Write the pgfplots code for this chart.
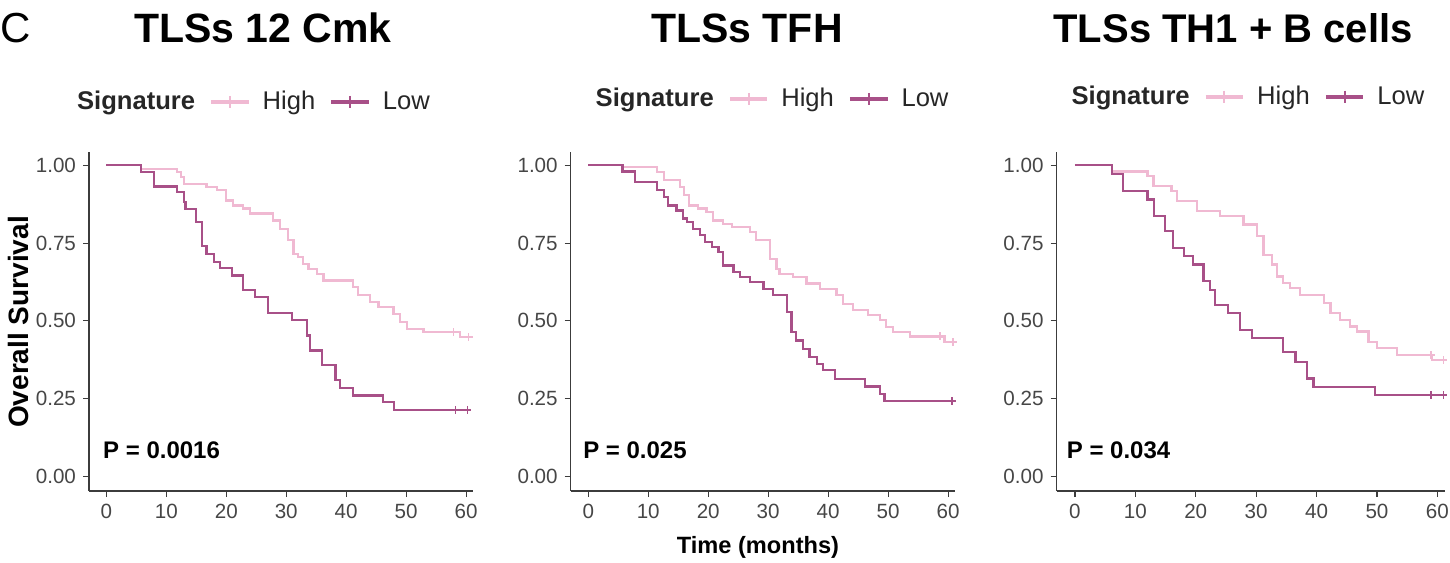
\documentclass[border=0pt]{standalone}
\usepackage{fontspec}
\setmainfont{Liberation Sans}
\usepackage{pgfplots}
\pgfplotsset{compat=1.18}
\definecolor{hicol}{RGB}{240,185,210}
\definecolor{locol}{RGB}{168,80,136}
\definecolor{axgray}{RGB}{60,60,60}
\definecolor{tickgray}{RGB}{70,70,70}
\pgfplotsset{kmstyle/.style={
  scale only axis, width=192pt, height=169.5pt, anchor=south west,
  xmin=-2.9, xmax=61.15, ymin=-0.047, ymax=1.043,
  axis x line*=bottom, axis y line*=left,
  axis line style={draw=axgray, line width=0.7pt, -},
  xtick={0,10,20,30,40,50,60}, xticklabels={0,10,20,30,40,50,60},
  ytick={0,0.25,0.5,0.75,1}, yticklabels={0.00,0.25,0.50,0.75,1.00},
  tick align=outside, major tick length=3pt,
  tick style={draw=axgray, line width=0.6pt},
  tick label style={font=\fontsize{10.3}{12}\selectfont, text=tickgray},
  clip=false,
  legend style={draw=none, fill=none, legend columns=-1, anchor=center,
    font=\fontsize{12.8}{15}\selectfont, text=black!85,
    /tikz/every odd column/.append style={column sep=4pt},
    /tikz/every even column/.append style={column sep=5pt}},
  legend image code/.code={\draw[mark repeat=2, mark phase=2, #1] plot coordinates {(0cm,0cm) (0.33cm,0cm) (0.66cm,0cm)};},
},
hicurve/.style={const plot, color=hicol, line width=1.1pt, forget plot},
locurve/.style={const plot, color=locol, line width=1.1pt, forget plot},
hicens/.style={only marks, mark=+, color=hicol, mark size=2pt, mark options={line width=0.8pt}, forget plot},
locens/.style={only marks, mark=+, color=locol, mark size=2pt, mark options={line width=0.8pt}, forget plot}}
\newcommand{\kmlegend}{%
  \addlegendimage{empty legend}\addlegendentry{\textbf{Signature}\hspace{3pt}}
  \addlegendimage{hicol, line width=2pt, mark=+, mark size=3pt, mark options={line width=1pt}}\addlegendentry{High}
  \addlegendimage{locol, line width=2pt, mark=+, mark size=3pt, mark options={line width=1pt}}\addlegendentry{Low}}
\begin{document}
\begin{tikzpicture}
\useasboundingbox (0,0) rectangle (725pt,281pt);
% Panel 1
\begin{axis}[kmstyle, at={(44.5pt,35.5pt)}, legend style={at={(0.418,1.148)}}]
\addplot[hicurve] coordinates {(0,1)(5.8,0.989)(11.8,0.979)(12.5,0.962)(12.9,0.941)(16.7,0.930)(18.4,0.920)(20.0,0.887)(21.1,0.871)(22.8,0.861)(23.9,0.845)(27.8,0.823)(28.9,0.796)(30.3,0.759)(31.2,0.716)(32.0,0.705)(32.8,0.684)(33.7,0.668)(35.1,0.652)(36.2,0.630)(41.2,0.609)(42.0,0.582)(44.0,0.561)(45.4,0.545)(47.9,0.523)(49.0,0.496)(50.1,0.475)(52.9,0.464)(59.0,0.448)(60.4,0.448)};
\addplot[hicens] coordinates {(57.9,0.464)(60.4,0.448)};
\addplot[locurve] coordinates {(0,1)(5.8,0.979)(8.0,0.932)(11.8,0.914)(12.9,0.882)(13.2,0.860)(15.0,0.818)(16.0,0.740)(16.7,0.716)(17.9,0.689)(18.9,0.670)(20.9,0.646)(22.8,0.598)(24.8,0.577)(27.0,0.525)(30.9,0.502)(33.4,0.453)(33.9,0.405)(35.9,0.357)(38.2,0.309)(39.0,0.285)(41.2,0.260)(46.1,0.239)(48.0,0.214)(60.2,0.214)};
\addplot[locens] coordinates {(58.2,0.214)(60.2,0.214)};
\kmlegend
\node[anchor=west, inner sep=0, font=\fontsize{12}{14}\selectfont\bfseries] at (axis cs:-0.6,0.084) {P = 0.0016};
\end{axis}
% Panel 2
\begin{axis}[kmstyle, at={(285.35pt,35.5pt)}, xmin=-2.93, xmax=61.1, legend style={at={(0.514,1.157)}}]
\addplot[hicurve] coordinates {(0,1)(5.7,0.995)(11.5,0.979)(12.6,0.952)(15.3,0.930)(15.9,0.904)(16.8,0.871)(18.3,0.861)(19.7,0.850)(20.8,0.823)(22.4,0.812)(23.9,0.802)(26.9,0.786)(27.9,0.759)(30.3,0.700)(31.4,0.668)(31.9,0.652)(34.2,0.641)(36.4,0.620)(38.6,0.603)(41.4,0.582)(42.5,0.555)(44.2,0.534)(46.7,0.518)(48.6,0.502)(49.7,0.480)(50.8,0.464)(53.6,0.450)(59.4,0.432)(60.8,0.432)};
\addplot[hicens] coordinates {(58.6,0.450)(60.8,0.432)};
\addplot[locurve] coordinates {(0,1)(5.7,0.98)(7.8,0.946)(11.5,0.920)(12.6,0.898)(13.3,0.871)(14.7,0.855)(15.8,0.829)(16.4,0.818)(17.5,0.796)(18.6,0.775)(19.4,0.753)(20.6,0.737)(21.7,0.721)(22.5,0.678)(24.2,0.657)(25.3,0.641)(26.9,0.625)(29.2,0.603)(30.8,0.582)(33.1,0.528)(33.9,0.464)(34.7,0.437)(35.8,0.410)(36.9,0.384)(38.1,0.362)(39.2,0.341)(41.1,0.314)(46.1,0.289)(48.6,0.266)(49.4,0.242)(60.6,0.242)};
\addplot[locens] coordinates {(60.6,0.242)};
\kmlegend
\node[anchor=west, inner sep=0, font=\fontsize{12}{14}\selectfont\bfseries] at (axis cs:-0.9,0.084) {P = 0.025};
\end{axis}
% Panel 3
\begin{axis}[kmstyle, at={(528.3pt,35.5pt)}, width=194pt, xmin=-3.03, xmax=61.2, legend style={at={(0.483,1.163)}}]
\addplot[hicurve] coordinates {(0,1)(6.1,0.980)(12.0,0.965)(13.0,0.933)(16.0,0.917)(16.9,0.885)(20.2,0.853)(24.0,0.837)(27.9,0.810)(30.1,0.772)(31.2,0.713)(32.6,0.681)(33.4,0.643)(34.5,0.622)(35.6,0.605)(37.3,0.584)(41.2,0.557)(42.3,0.525)(43.9,0.503)(45.6,0.482)(46.7,0.466)(48.6,0.433)(50.0,0.412)(53.3,0.390)(59.1,0.374)(61.0,0.374)};
\addplot[hicens] coordinates {(58.9,0.390)(61.0,0.374)};
\addplot[locurve] coordinates {(0,1)(6.1,0.973)(8.0,0.917)(12.0,0.890)(13.1,0.837)(14.9,0.788)(16.3,0.734)(18.0,0.708)(19.6,0.681)(21.3,0.627)(22.4,0.600)(23.2,0.552)(25.4,0.525)(27.3,0.471)(29.3,0.444)(34.5,0.401)(36.5,0.369)(38.4,0.315)(39.5,0.288)(49.7,0.261)(61.0,0.261)};
\addplot[locens] coordinates {(58.9,0.261)(61.0,0.261)};
\kmlegend
\node[anchor=west, inner sep=0, font=\fontsize{12}{14}\selectfont\bfseries] at (axis cs:-1.4,0.084) {P = 0.034};
\end{axis}
% Titles and shared labels
\node[anchor=base west, inner sep=0, font=\fontsize{21}{24}\selectfont] at (0pt,259.5pt) {C};
\node[anchor=base, inner sep=0, font=\fontsize{20.5}{24}\selectfont\bfseries] at (131.5pt,259.5pt) {TLSs 12 Cmk};
\node[anchor=base, inner sep=0, font=\fontsize{20.5}{24}\selectfont\bfseries] at (373.5pt,259.5pt) {TLSs TFH};
\node[anchor=base, inner sep=0, font=\fontsize{20}{24}\selectfont\bfseries] at (616.5pt,259.5pt) {TLSs TH1 + B cells};
\node[rotate=90, inner sep=0, font=\fontsize{14}{16}\selectfont\bfseries] at (9pt,120pt) {Overall Survival};
\node[inner sep=0, font=\fontsize{11.8}{14}\selectfont\bfseries] at (379pt,7.5pt) {Time (months)};
\end{tikzpicture}
\end{document}
